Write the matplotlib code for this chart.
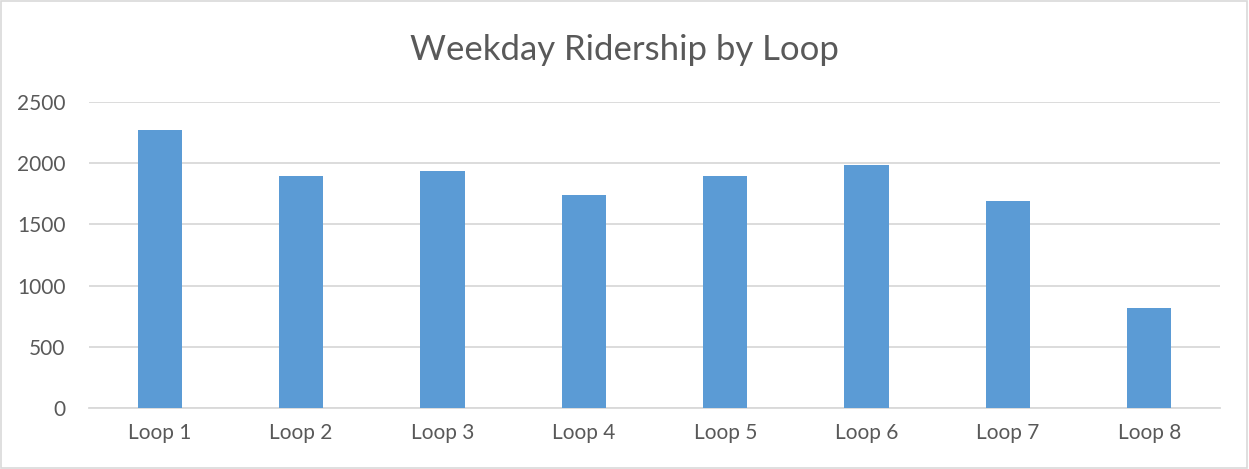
import matplotlib.pyplot as plt
from matplotlib.patches import Rectangle

# --- Data ---
loops = ["Loop 1", "Loop 2", "Loop 3", "Loop 4", "Loop 5", "Loop 6", "Loop 7", "Loop 8"]
riders = [2271, 1893, 1936, 1738, 1898, 1983, 1691, 817]
y_ticks = [0, 500, 1000, 1500, 2000, 2500]

# --- Style ---
bar_color = "#5B9BD5"
text_color = "#595959"
grid_color = "#D9D9D9"
plt.rcParams["font.family"] = ["Lato", "DejaVu Sans"]

fig = plt.figure(figsize=(12.49, 4.69), dpi=100)
ax = fig.add_axes([89 / 1249, 61 / 469, 1131 / 1249, 306 / 469])

x = range(len(loops))
ax.bar(x, riders, width=0.313, color=bar_color, zorder=3)

ax.set_xlim(-0.5, len(loops) - 0.5)
ax.set_ylim(0, 2500)
ax.set_yticks(y_ticks)
ax.set_xticks(list(x))
ax.set_xticklabels(loops)

ax.grid(axis="y", color=grid_color, linewidth=1.3, zorder=0)
for side in ["top", "right", "left"]:
    ax.spines[side].set_visible(False)
ax.spines["bottom"].set_color(grid_color)
ax.spines["bottom"].set_linewidth(1.3)
ax.tick_params(axis="both", length=0, colors=text_color, labelsize=15)
ax.tick_params(axis="y", pad=17)
ax.tick_params(axis="x", pad=11)

fig.text(0.5, 0.893, "Weekday Ridership by Loop", ha="center", va="center",
         fontsize=25, color=text_color)

# light border around the chart area
fig.patches.append(Rectangle((0.001, 0.003), 0.997, 0.994, transform=fig.transFigure,
                             fill=False, edgecolor=grid_color, linewidth=1.2))

fig.savefig("out.png", dpi=100)
